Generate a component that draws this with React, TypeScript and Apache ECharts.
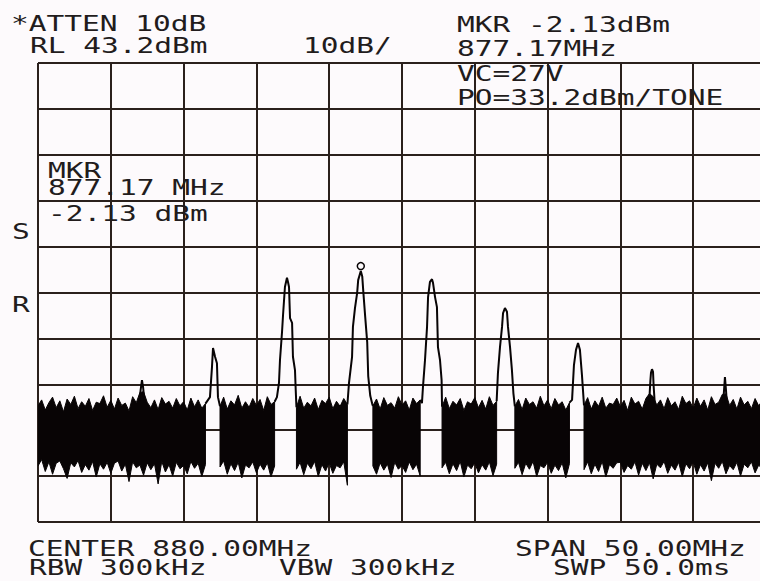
import { useEffect, useRef } from "react";
import * as echarts from "echarts";

// ---- instrument settings ----
const RL = 43.2; // reference level, dBm (top of screen)
const SPAN_START = 855; // MHz
const SPAN_STOP = 905; // MHz
const FREQ_DIV = 5; // MHz / div
const DB_DIV = 10; // dB / div
const NOISE_STEP = 0.25; // MHz between noise-envelope samples

const N = null;

// noise floor, upper envelope (dBm), one value per 0.25 MHz from 855 MHz
const noiseTop = [
  -31.5, -30.2, -32.4, -30.8, -29.6, -31.9, -30.4, -32.8, -30.0, -31.2, -29.4, -32.1, -30.6, -31.6, -29.9, -32.5, -30.7, -31.0, -29.3, -31.8,
  -30.3, -32.2, -29.8, -31.4, -30.9, -32.6, -29.5, -30.8, -28.6, -28.4, -30.7, -31.9, -30.2, -32.3, -29.7, -31.1, -30.5, -32.0, -29.9, -31.5,
  -30.6, -32.4, -29.8, -31.7, -30.2, -32.0, -31.0, N, N, N, -31.6, -29.6, -32.2, -30.4, -31.3, -29.2, -32.0, -30.6, -31.8, -29.9,
  -31.4, -30.1, -32.5, -29.5, -31.2, -30.6, N, N, N, N, N, -31.8, -29.4, -32.0, -30.7, -31.5, -29.8, -32.3, -30.3, -31.0,
  -29.6, -32.1, -30.5, -31.6, -29.9, -31.2, N, N, N, N, N, N, -31.5, -30.0, -32.2, -29.7, -31.4, -30.8, -32.0, -29.5,
  -31.3, -30.4, -32.4, -29.8, -31.0, -30.2, N, N, N, N, N, -31.7, -29.6, -32.1, -30.5, -31.3, -29.9, -32.5, -30.6, -31.1,
  -29.7, -31.9, -30.3, -32.2, -29.5, -31.4, -30.5, N, N, N, N, -31.6, -30.1, -32.3, -29.8, -31.2, -30.6, -32.0, -29.4, -31.5,
  -30.2, -32.1, -29.9, -31.3, -30.6, -32.4, -30.8, N, N, N, -31.4, -29.7, -32.2, -30.4, -31.6, -29.6, -32.0, -30.9, -31.2, -29.8,
  -31.7, -30.3, -32.5, -29.6, -31.1, -30.5, -32.2, -29.9, -28.8, -29.5, -31.3, -30.2, -32.1, -29.7, -31.5, -30.6, -32.3, -29.4, -31.0, -30.4,
  -32.0, -29.8, -31.6, -30.2, -32.4, -29.5, -31.2, -30.7, -29.0, -28.9, -31.4, -30.1, -32.2, -29.6, -31.3, -30.5, -32.1, -29.9, -31.5, -30.3,
  -31.2,
];

// noise floor, lower envelope (dBm)
const noiseBottom = [
  -44.6, -43.2, -45.8, -43.7, -46.4, -44.0, -43.5, -45.2, -47.3, -43.9, -44.8, -43.4, -46.0, -44.3, -45.5, -43.6, -47.0, -44.1, -45.3, -43.8,
  -46.2, -44.0, -43.5, -45.7, -44.2, -48.0, -43.7, -45.0, -44.4, -46.6, -43.9, -45.4, -44.1, -48.5, -43.6, -45.9, -44.3, -46.8, -43.8, -45.2,
  -44.5, -46.3, -43.6, -45.1, -44.0, -46.9, -44.3, N, N, N, -44.8, -43.5, -46.4, -44.1, -45.6, -43.8, -47.2, -44.4, -45.0, -43.7,
  -46.1, -44.2, -45.5, -43.9, -47.0, -44.6, N, N, N, N, N, -45.3, -43.8, -46.5, -44.0, -45.2, -43.6, -46.9, -44.3, -45.7,
  -43.9, -46.2, -44.5, -45.0, -43.7, -48.8, N, N, N, N, N, N, -44.6, -46.4, -43.9, -45.5, -44.2, -47.1, -43.8, -45.3,
  -44.5, -46.0, -43.7, -45.4, -44.2, -46.8, N, N, N, N, N, -45.0, -43.8, -46.3, -44.1, -45.6, -43.6, -47.0, -44.4, -45.2,
  -43.9, -46.1, -44.3, -45.5, -43.7, -46.7, -44.2, N, N, N, N, -45.1, -43.8, -46.5, -44.0, -45.3, -43.6, -46.9, -44.5, -45.0,
  -43.8, -46.2, -44.4, -45.6, -43.9, -47.2, -44.1, N, N, N, -45.4, -43.7, -46.3, -44.2, -45.8, -43.6, -47.0, -44.3, -45.1, -43.9,
  -43.8, -46.0, -44.5, -45.3, -43.7, -46.6, -44.0, -45.6, -43.9, -47.4, -44.2, -45.0, -43.6, -46.2, -44.4, -45.5, -43.8, -46.9, -44.1, -45.2,
  -43.7, -46.4, -44.3, -45.7, -43.9, -47.8, -44.0, -45.1, -43.6, -46.3, -44.5, -45.4, -43.8, -46.8, -44.2, -45.0, -43.7, -46.1, -44.4, -45.3,
  -44.6,
];

// carrier and intermodulation peaks: [MHz, dBm]
const peak862 = [[861.95, -30.5], [862.05, -28.0], [862.14, -25.9], [862.22, -27.5], [862.32, -30.8]];
const peak867 = [[866.5, -31.0], [866.81, -29.6], [866.95, -23.0], [867.02, -18.9], [867.16, -20.8], [867.29, -22.2], [867.36, -29.6], [867.5, -31.6]];
const peak872 = [[871.25, -30.6], [871.41, -29.6], [871.55, -26.5], [871.62, -21.5], [871.76, -15.4], [871.83, -11.7], [871.96, -5.6], [872.1, -3.6], [872.17, -4.5], [872.24, -5.6], [872.31, -12.4], [872.45, -13.4], [872.51, -20.8], [872.65, -23.7], [872.7, -28.0], [872.75, -31.8]];
const peak877 = [[876.25, -31.2], [876.36, -26.5], [876.57, -20.8], [876.63, -14.3], [876.77, -10.2], [876.92, -6.9], [876.99, -4.1], [877.17, -2.13], [877.27, -3.3], [877.34, -6.5], [877.47, -12.0], [877.61, -17.6], [877.68, -25.0], [877.82, -29.3], [877.95, -31.0], [878.0, -31.5]];
const peak882 = [[881.25, -30.2], [881.37, -30.9], [881.44, -27.4], [881.58, -21.5], [881.72, -14.3], [881.79, -7.8], [881.92, -4.5], [882.06, -3.9], [882.13, -4.7], [882.27, -7.8], [882.4, -10.0], [882.47, -18.7], [882.61, -21.5], [882.72, -25.9], [882.75, -31.7]];
const peak887 = [[886.5, -30.5], [886.59, -24.3], [886.73, -18.7], [886.87, -14.3], [886.94, -11.3], [887.07, -10.2], [887.21, -11.0], [887.28, -14.3], [887.42, -18.7], [887.55, -23.7], [887.65, -28.7], [887.75, -31.6]];
const peak892 = [[891.5, -30.8], [891.68, -30.2], [891.81, -22.6], [891.95, -19.3], [892.09, -17.8], [892.22, -19.3], [892.36, -24.8], [892.5, -31.4]];
const peak897 = [[896.98, -30.5], [897.06, -26.0], [897.1, -24.3], [897.17, -23.5], [897.24, -24.1], [897.28, -27.0], [897.36, -31.0]];
const peak902 = [[902.05, -30.8], [902.11, -28.5], [902.18, -25.2], [902.25, -28.0], [902.32, -31.2]];
const peaks = [peak862, peak867, peak872, peak877, peak882, peak887, peak892, peak897, peak902];

const markerPoint = [877.17, -2.13];

// screen annotations
const headerLines = ["*ATTEN 10dB", "RL 43.2dBm", "10dB/", "MKR -2.13dBm", "877.17MHz", "VC=27V", "PO=33.2dBm/TONE"];
const markerReadout = ["MKR", "877.17 MHz", "-2.13 dBm"];
const sideLetters = ["S", "R"];
const footerLines = ["CENTER 880.00MHz", "SPAN 50.00MHz", "RBW 300kHz", "VBW 300kHz", "SWP 50.0ms"];

// ---- layout / style ----
const BG = "#fdfafc";
const GRID = "#2a201c";
const TRACE = "#080405";
const TEXT = "#221c1c";
const FONT = "'DejaVu Sans Mono', 'Liberation Mono', monospace";
const FONT_SIZE = 21;
const STRETCH = 1.405;

const headerPos = [[11, 24], [30, 46], [303, 46], [457, 25], [457, 49], [457, 74], [457, 98]];
const readoutPos = [[48, 171], [48, 188], [48, 214]];
const sidePos = [[12, 232], [12, 305]];
const footerPos = [[28, 549], [515, 549], [29, 568], [279, 568], [553, 568]];

const rel = (v: number) => +(v - RL).toFixed(3);

function textEl(text: string, pos: number[]) {
  return {
    type: "text",
    x: pos[0],
    y: pos[1],
    scaleX: STRETCH,
    z: 100,
    silent: true,
    style: {
      text,
      fill: TEXT,
      fontFamily: FONT,
      fontSize: FONT_SIZE,
      verticalAlign: "middle",
      textVerticalAlign: "middle",
    },
  };
}

export default function App() {
  const ref = useRef<HTMLDivElement>(null);

  useEffect(() => {
    if (!ref.current) return;
    const chart = echarts.init(ref.current, null, { renderer: "svg" });

    const freqAt = (i: number) => +(SPAN_START + i * NOISE_STEP).toFixed(3);

    // contiguous runs of the noise envelope (broken where the carriers rise out of it)
    const segments: number[][] = [];
    let start = -1;
    noiseTop.forEach((v, i) => {
      const ok = v != null && noiseBottom[i] != null;
      if (ok && start < 0) start = i;
      if ((!ok || i === noiseTop.length - 1) && start >= 0) {
        const end = ok ? i : i - 1;
        segments.push([freqAt(start), rel(noiseTop[start] as number), start, end]);
        start = -1;
      }
    });

    const noiseBand = {
      type: "custom",
      silent: true,
      clip: true,
      z: 2,
      encode: { x: 0, y: 1 },
      data: segments,
      renderItem: (params: any, api: any) => {
        const s = api.value(2);
        const e = api.value(3);
        const pts: number[][] = [];
        for (let i = s; i <= e; i++) pts.push(api.coord([freqAt(i), rel(noiseTop[i] as number)]));
        for (let i = e; i >= s; i--) pts.push(api.coord([freqAt(i), rel(noiseBottom[i] as number)]));
        return {
          type: "polygon",
          shape: { points: pts },
          style: { fill: TRACE, stroke: TRACE, lineWidth: 1, lineJoin: "miter" },
        };
      },
    };

    const series: any[] = [
      noiseBand,
      ...peaks.map((p) => ({
        type: "line",
        data: p.map(([f, v]) => [f, rel(v)]),
        symbol: "none",
        silent: true,
        lineStyle: { color: TRACE, width: 2 },
        z: 4,
      })),
      {
        type: "scatter",
        data: [[markerPoint[0], rel(markerPoint[1])]],
        symbol: "circle",
        symbolSize: 7,
        symbolOffset: [0, -5],
        silent: true,
        itemStyle: { color: BG, borderColor: TRACE, borderWidth: 1.5, opacity: 1 },
        z: 5,
      },
    ];

    const axisCommon = {
      type: "value",
      axisLine: { show: false },
      axisTick: { show: false },
      axisLabel: { show: false },
      splitLine: { show: true, showMinLine: true, showMaxLine: true, lineStyle: { color: GRID, width: 2 } },
    };

    const elements = [
      ...headerLines.map((t, i) => textEl(t, headerPos[i])),
      ...markerReadout.map((t, i) => textEl(t, readoutPos[i])),
      ...sideLetters.map((t, i) => textEl(t, sidePos[i])),
      ...footerLines.map((t, i) => textEl(t, footerPos[i])),
    ];

    chart.setOption({
      animation: false,
      backgroundColor: BG,
      grid: { left: 38, top: 63, width: 728, height: 459, outerBoundsMode: "none", containLabel: false },
      xAxis: { ...axisCommon, min: SPAN_START, max: SPAN_STOP, interval: FREQ_DIV },
      yAxis: { ...axisCommon, min: -10 * DB_DIV, max: 0, interval: DB_DIV },
      series,
      graphic: { elements },
    } as any);

    return () => chart.dispose();
  }, []);

  return (
    <div
      ref={ref}
      style={{ position: "absolute", left: 0, top: 0, width: 760, height: 581, background: BG }}
    />
  );
}
